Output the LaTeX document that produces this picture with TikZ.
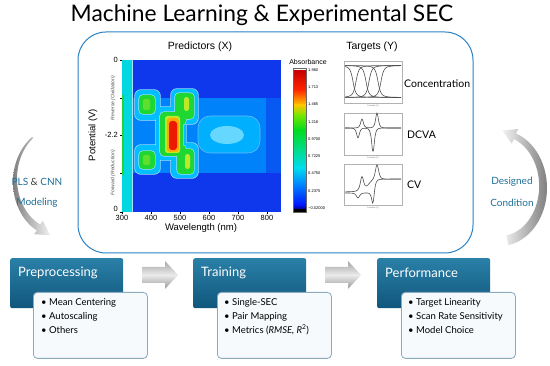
\documentclass[tikz,border=0pt]{standalone}
\usepackage{fontspec}
\setmainfont{Lato}
\newfontfamily\plotfont{Liberation Sans}
\usetikzlibrary{positioning}

\definecolor{framecol}{RGB}{40,130,200}
\definecolor{tealtext}{RGB}{30,110,150}
\definecolor{boxtop}{RGB}{42,128,168}
\definecolor{boxbot}{RGB}{16,86,124}
\definecolor{listfill}{RGB}{246,250,252}
\definecolor{listdraw}{RGB}{140,170,190}
\definecolor{hmblue}{RGB}{15,55,235}
\definecolor{hmband}{RGB}{0,130,250}
\definecolor{hmlight}{RGB}{0,190,255}
\definecolor{hmcyan}{RGB}{0,215,225}
\definecolor{hmgreen}{RGB}{30,215,50}
\definecolor{hmlime}{RGB}{190,232,40}
\definecolor{hmorange}{RGB}{255,170,0}
\definecolor{hmred}{RGB}{235,25,0}
\definecolor{contour}{RGB}{170,225,250}
\definecolor{cbA}{RGB}{200,0,0}
\definecolor{cbB}{RGB}{255,40,0}
\definecolor{cbC}{RGB}{255,200,0}
\definecolor{cbD}{RGB}{120,230,0}
\definecolor{cbE}{RGB}{0,220,30}
\definecolor{cbF}{RGB}{0,220,140}
\definecolor{cbG}{RGB}{0,220,240}
\definecolor{cbH}{RGB}{0,130,255}
\definecolor{cbI}{RGB}{0,20,255}
\definecolor{cbJ}{RGB}{0,0,120}

\tikzset{
  headbox/.style={anchor=north west, minimum width=113pt, minimum height=50pt,
    rounded corners=2pt, top color=boxtop, bottom color=boxbot, inner sep=0pt},
  headtext/.style={anchor=west, text=white, font=\fontsize{13}{13}\selectfont, inner sep=0pt},
  listbox/.style={anchor=north west, minimum width=114pt, minimum height=66pt,
    rounded corners=4pt, fill=listfill, draw=listdraw, line width=0.8pt, inner sep=0pt},
  listtext/.style={anchor=north west, align=left, font=\fontsize{9.5}{14}\selectfont, inner sep=0pt},
  sidetext/.style={text=tealtext, font=\fontsize{10}{10}\selectfont, inner sep=0pt},
  plottitle/.style={font=\plotfont\fontsize{10.5}{10.5}\selectfont, inner sep=0pt},
  axlabel/.style={font=\plotfont\fontsize{9.5}{9.5}\selectfont, inner sep=0pt},
  ticklabel/.style={font=\plotfont\fontsize{7.5}{7.5}\selectfont, inner sep=0pt},
  sweeplabel/.style={font=\plotfont\itshape\fontsize{5}{5}\selectfont, text=black!70, inner sep=0pt, rotate=90},
  cbtick/.style={anchor=west, font=\plotfont\fontsize{4}{4}\selectfont, inner sep=0pt},
  tbox/.style={draw=black!30, line width=0.5pt},
  tcurve/.style={draw=black!70, line width=0.6pt},
  tiny/.style={font=\plotfont\fontsize{2}{2}\selectfont, text=black!60, inner sep=0pt},
  targettext/.style={anchor=west, font=\fontsize{10.5}{10.5}\selectfont, inner sep=0pt},
  blockarrow/.style={top color=black!35, bottom color=black!40, middle color=black!8},
}

\begin{document}
\begin{tikzpicture}[x=1pt,y=-1pt]
\useasboundingbox (0,0) rectangle (550,366);

\node[font=\fontsize{22.8}{22.8}\selectfont] (title) at (262,15) {Machine Learning \& Experimental SEC};
\draw[framecol, line width=1pt, rounded corners=28pt] (78,32) rectangle (473,253);

% heat map of the predictors
\begin{scope}
\clip (122,60) rectangle (281,212);
\fill[hmblue] (122,60) rectangle (281,212);
\fill[hmband] (132,98) rectangle (281,173);
\fill[hmcyan] (122,60) rectangle (132,212);
\fill[hmgreen] (122,95) rectangle (124,175);
\draw[contour, line width=0.6pt] (132.5,60) -- (132.5,212);
\fill[hmblue!55!hmband] (266,98) rectangle (281,173);
\draw[contour!60!hmband, line width=0.6pt, fill=hmlight!75!hmband, rounded corners=12pt] (198,116) rectangle (260,153);
\fill[hmlight!60!white] (227,135) ellipse [x radius=17, y radius=9];
\def\levelone{(135,90) rectangle (160,120) (171,89) rectangle (198,124) (156,107) rectangle (186,160)
  (135,145) rectangle (160,174) (171,143) rectangle (198,178)}
\def\leveltwo{(139,95) rectangle (155,114) (175,93) rectangle (194,119) (160,112) rectangle (183,156)
  (139,151) rectangle (155,169) (177,149) rectangle (194,174) (176,110) rectangle (186,125) (176,145) rectangle (186,158)}
\def\levelthree{(184,97) rectangle (189,111) (165,116) rectangle (180,153) (185,154) rectangle (190,169)}
\draw[contour, line width=1.4pt, rounded corners=6pt] \levelone;
\fill[hmlight, rounded corners=6pt] \levelone;
\draw[contour, line width=1.2pt, rounded corners=4pt] \leveltwo;
\fill[hmgreen, rounded corners=4pt] \leveltwo;
\fill[hmgreen!60!hmlime, rounded corners=2pt] (143,99) rectangle (150,110) (143,155) rectangle (150,165);
\fill[hmlime, rounded corners=2.5pt] \levelthree;
\fill[hmorange, rounded corners=3pt] (167,118) rectangle (179,152);
\fill[hmred, rounded corners=3pt] (169,121) rectangle (177,150);
\end{scope}

% axes
\foreach \y/\t [count=\i] in {60/0, 135/-2.2, 209/0} {
  \node[ticklabel, anchor=east] (ylab\i) at (118,\y) {\t};
}
\foreach \y in {60,98,135,173,212}
  \draw (120,\y) -- (122,\y);
\node[sweeplabel] (rev) at (113,98) {Reverse (Oxidation)};
\node[sweeplabel] (fwd) at (113,173) {Forward (Reduction)};
\foreach \w [count=\i] in {300,400,...,800} {
  \node[ticklabel, anchor=north] (xlab\i) at ({122+0.29*(\w-300)},215) {\w};
  \draw ({122+0.29*(\w-300)},212) -- ({122+0.29*(\w-300)},214);
}
\node[axlabel, rotate=90] (pot) at (93,135) {Potential (V)};
\node[axlabel] (wave) at (201,228) {Wavelength (nm)};
\node[plottitle] (pred) at (200,47) {Predictors (X)};

% colour bar
\node[font=\plotfont\fontsize{7}{7}\selectfont, inner sep=0pt] (absorb) at (308,62) {Absorbance};
\fill[white] (293,68) rectangle (306,71);
\foreach \ya/\ca/\yb/\cb in {71/cbA/90/cbB, 90/cbB/105/cbC, 105/cbC/115/cbD, 115/cbD/130/cbE,
    130/cbE/150/cbF, 150/cbF/168/cbG, 168/cbG/185/cbH, 185/cbH/205/cbI, 205/cbI/209.3/cbJ}
  \shade[top color=\ca, bottom color=\cb] (293,\ya-0.2) rectangle (306,\yb+0.2);
\fill[black] (293,209) rectangle (306,212);
\draw[black!60, line width=0.4pt] (293,68) rectangle (306,212);
\foreach \v [count=\i from 0] in {1.960,1.713,1.465,1.218,0.9700,0.7225,0.4750,0.2375,−0.02000}
  \node[cbtick] (cb\i) at (308,{70+17.25*\i}) {\v};

% targets
\node[plottitle] (targ) at (372,47) {Targets (Y)};
\foreach \ya/\yb [count=\i] in {61/103, 113/155, 164/205} {
  \draw[tbox] (344,\ya) rectangle (402,\yb);
  \node[tiny] (pv\i) at (373,\yb+3) {Potential (V)};
}
\foreach \c/\sg in {353/1, 356/-1, 366/1, 369/-1, 378/1, 381/-1}
  \draw[tcurve] plot[domain=345:401, samples=60, smooth]
    (\x, {81.5+\sg*16*((\x-\c)/3)/sqrt(1+((\x-\c)/3)^2)});
\draw[tcurve] plot[domain=345:401, samples=80, smooth]
  (\x, {128+10*(1/(1+((\x-358)/2.5)^2))^2+24*(1/(1+((\x-373)/2.5)^2))^2});
\draw[tcurve] plot[domain=345:401, samples=80, smooth]
  (\x, {128-9*(1/(1+((\x-362)/2.5)^2))^2-15*(1/(1+((\x-377)/2.5)^2))^2});
\draw[tcurve] plot[domain=345:401, samples=80, smooth]
  (\x, {185.5-6.5*((\x-368)/5)/sqrt(1+((\x-368)/5)^2)-14*(1/(1+((\x-362)/3)^2))^2-15*(1/(1+((\x-377)/3)^2))^2});
\draw[tcurve] plot[domain=345:401, samples=80, smooth]
  (\x, {186-7*((\x-372)/2)/sqrt(1+((\x-372)/2)^2)+5*(1/(1+((\x-358)/3)^2))^2+20*(1/(1+((\x-373)/2.5)^2))^2});
\node[targettext] (conc) at (404,84) {Concentration};
\node[targettext] (dcva) at (407,135) {DCVA};
\node[targettext] (cv) at (407,185) {CV};

% curved side arrows
\shade[left color=black!50, right color=black!5]
  plot[domain=235:118, samples=40] ({58+45*cos(\x)}, {182+55*sin(\x)})
  -- (34.1,234.2) -- (50.2,235.2) -- (42.9,220.8)
  -- plot[domain=118:235, samples=40] ({58+(45-1.5-5.5*(235-\x)/117)*cos(\x)}, {182+(55-1.5-5.5*(235-\x)/117)*sin(\x)})
  -- cycle;
\node[sidetext] (plscnn) at (37,182) {PLS {\color{black!75}\&} CNN};
\node[sidetext] (model) at (37,203) {Modeling};

\shade[left color=black!5, right color=black!50]
  plot[domain=80:-70, samples=40] ({500+47*cos(\x)}, {188+58*sin(\x)})
  -- (518.3,129.0) -- (502.3,130.5) -- (511.7,143.6)
  -- plot[domain=-70:80, samples=40] ({500+(47-6-4*(\x+70)/150)*cos(\x)}, {188+(58-6-4*(\x+70)/150)*sin(\x)})
  -- cycle;
\node[sidetext] (design) at (512,182) {Designed};
\node[sidetext] (cond) at (512,203) {Condition};

% workflow boxes
\node[headbox] (pre) at (10,258) {};
\node[headtext] (pretxt) at (18,273) {Preprocessing};
\node[headbox] (train) at (193,258) {};
\node[headtext] (traintxt) at (201,273) {Training};
\node[headbox] (perf) at (377,258) {};
\node[headtext] (perftxt) at (385,273) {Performance};

\node[listbox] (prelist) at (33,292) {};
\node[listtext] (preitems) at (41,298.5) {• Mean Centering\\• Autoscaling\\• Others};
\node[listbox] (trainlist) at (217,292) {};
\node[listtext] (trainitems) at (224,298.5) {• Single-SEC\\• Pair Mapping\\• Metrics (\textit{RMSE, R}\textsuperscript{2})};
\node[listbox] (perflist) at (401,292) {};
\node[listtext] (perfitems) at (408,298.5) {• Target Linearity\\• Scan Rate Sensitivity\\• Model Choice};

\foreach \xa in {142,325}
  \shade[blockarrow] (\xa,267) -- (\xa+23,267) -- (\xa+23,261) -- (\xa+36,275)
    -- (\xa+23,289) -- (\xa+23,283) -- (\xa,283) -- cycle;

\end{tikzpicture}
\end{document}
